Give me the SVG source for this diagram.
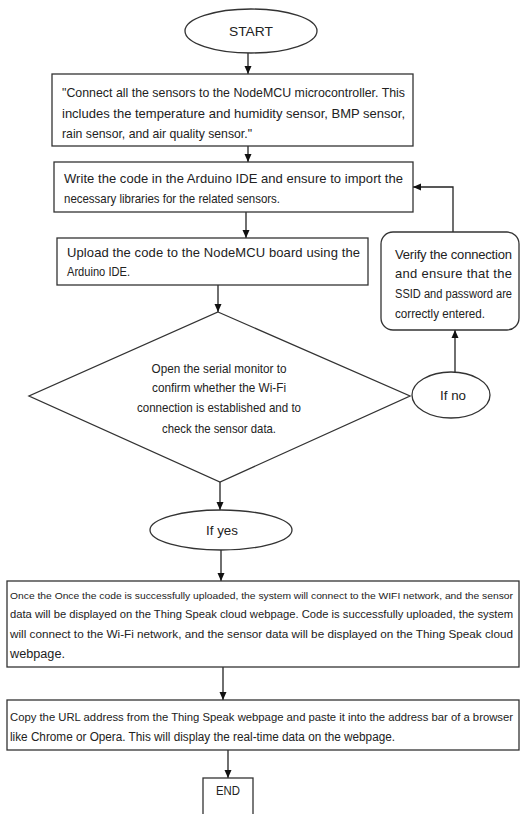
<svg xmlns="http://www.w3.org/2000/svg" width="521" height="814" viewBox="0 0 521 814">
<defs>
<marker id="ah" markerUnits="userSpaceOnUse" markerWidth="9" markerHeight="8" refX="8" refY="4" orient="auto">
<path d="M0,0.5 L8,4 L0,7.5 z" fill="#111"/>
</marker>
<style>
.n{fill:#fff;stroke:#333;stroke-width:1.3}
.t{font-family:"Liberation Sans","DejaVu Sans",sans-serif;font-size:13px;fill:#222}
.m{font-size:12px}
.k{font-size:11px}
.s{font-size:9.8px}
.c{text-anchor:middle}
.e{fill:none;stroke:#222;stroke-width:1.3;marker-end:url(#ah)}
</style>
</defs>
<rect width="521" height="814" fill="#fff"/>
<g id="connectors">
<path class="e" d="M248,53 V74"/>
<path class="e" d="M248,146 V162"/>
<path class="e" d="M246,212 V238"/>
<path class="e" d="M218,285 V312"/>
<path class="e" d="M220,482 V510"/>
<path class="e" d="M221,550 V581"/>
<path class="e" d="M223,667 V700"/>
<path class="e" d="M228,750 V778"/>
<path class="e" d="M455,372 V330"/>
<path class="e" d="M453,232 V187 H413"/>
</g>
<g id="start">
<ellipse class="n" cx="251" cy="31" rx="66" ry="22"/>
<text class="t c" x="251" y="36" textLength="44" lengthAdjust="spacingAndGlyphs">START</text>
</g>
<g id="connect">
<rect class="n" x="52" y="74" width="361" height="72"/>
<text class="t" x="62" y="97" textLength="343" lengthAdjust="spacingAndGlyphs">"Connect all the sensors to the NodeMCU microcontroller. This</text>
<text class="t" x="62" y="118" textLength="343" lengthAdjust="spacing">includes the temperature and humidity sensor, BMP sensor,</text>
<text class="t" x="62" y="138" textLength="190" lengthAdjust="spacingAndGlyphs">rain sensor, and air quality sensor."</text>
</g>
<g id="write">
<rect class="n" x="54" y="162" width="359" height="50"/>
<text class="t" x="64" y="183" textLength="339" lengthAdjust="spacing">Write the code in the Arduino IDE and ensure to import the</text>
<text class="t" x="64" y="203" textLength="216" lengthAdjust="spacingAndGlyphs">necessary libraries for the related sensors.</text>
</g>
<g id="upload">
<rect class="n" x="57" y="238" width="311" height="47"/>
<text class="t" x="67" y="257" textLength="293" lengthAdjust="spacing">Upload the code to the NodeMCU board using the</text>
<text class="t" x="67" y="276" textLength="63" lengthAdjust="spacingAndGlyphs">Arduino IDE.</text>
</g>
<g id="verify">
<rect class="n" x="381" y="232" width="138" height="98" rx="12" ry="12"/>
<text class="t" x="395" y="259" textLength="117" lengthAdjust="spacing">Verify the connection</text>
<text class="t" x="395" y="278" textLength="117" lengthAdjust="spacing">and ensure that the</text>
<text class="t m" x="395" y="298" textLength="117" lengthAdjust="spacingAndGlyphs">SSID and password are</text>
<text class="t" x="395" y="318" textLength="90" lengthAdjust="spacingAndGlyphs">correctly entered.</text>
</g>
<g id="decision">
<polygon class="n" points="218,312 410,396 220,482 29,396"/>
<text class="t c" x="219" y="373" textLength="135" lengthAdjust="spacingAndGlyphs">Open the serial monitor to</text>
<text class="t c" x="219" y="392" textLength="134" lengthAdjust="spacingAndGlyphs">confirm whether the Wi-Fi</text>
<text class="t c" x="219" y="412" textLength="164" lengthAdjust="spacingAndGlyphs">connection is established and to</text>
<text class="t c" x="219" y="433" textLength="114" lengthAdjust="spacingAndGlyphs">check the sensor data.</text>
</g>
<g id="ifno">
<ellipse class="n" cx="451" cy="395" rx="39" ry="23"/>
<text class="t c" x="453" y="400" textLength="26" lengthAdjust="spacingAndGlyphs">If no</text>
</g>
<g id="ifyes">
<ellipse class="n" cx="221" cy="530" rx="71" ry="20"/>
<text class="t c" x="222" y="535" textLength="32" lengthAdjust="spacingAndGlyphs">If yes</text>
</g>
<g id="uploaded">
<rect class="n" x="7" y="581" width="512" height="86"/>
<text class="t s" x="10" y="599" textLength="503" lengthAdjust="spacingAndGlyphs">Once the Once the code is successfully uploaded, the system will connect to the WIFI network, and the sensor</text>
<text class="t k" x="10" y="618" textLength="503" lengthAdjust="spacingAndGlyphs">data will be displayed on the Thing Speak cloud webpage. Code is successfully uploaded, the system</text>
<text class="t k" x="10" y="638" textLength="503" lengthAdjust="spacingAndGlyphs">will connect to the  Wi-Fi network, and the sensor data will be displayed on the Thing Speak cloud</text>
<text class="t m" x="10" y="658" textLength="55" lengthAdjust="spacingAndGlyphs">webpage.</text>
</g>
<g id="copy">
<rect class="n" x="7" y="700" width="512" height="50"/>
<text class="t k" x="10" y="721" textLength="503" lengthAdjust="spacingAndGlyphs">Copy the URL address from the Thing Speak webpage and paste it into the address bar of a browser</text>
<text class="t m" x="10" y="741" textLength="385" lengthAdjust="spacingAndGlyphs">like Chrome or Opera. This will display the real-time data on the webpage.</text>
</g>
<g id="end">
<rect class="n" x="203" y="778" width="50" height="40"/>
<text class="t c" x="228" y="795" textLength="24" lengthAdjust="spacingAndGlyphs">END</text>
</g>
</svg>
